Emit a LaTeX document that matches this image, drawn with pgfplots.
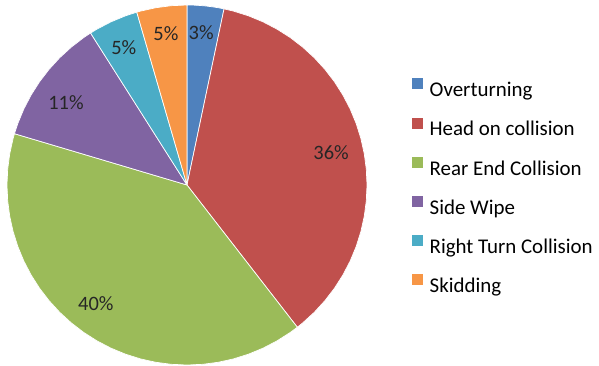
\documentclass[border=0pt]{standalone}
\usepackage{fontspec}
\setmainfont{Carlito}
\usepackage{pgfplots}
\pgfplotsset{compat=1.18}
\usepgfplotslibrary{polar}
\definecolor{cBlue}{HTML}{4F81BD}
\definecolor{cRed}{HTML}{C0504D}
\definecolor{cGreen}{HTML}{9BBB59}
\definecolor{cPurple}{HTML}{8064A2}
\definecolor{cAqua}{HTML}{4BACC6}
\definecolor{cOrange}{HTML}{F79646}
% Shares (%): Overturning 3.3, Head on 36.2, Rear End 40.1, Side Wipe 11.4, Right Turn 4.5, Skidding 4.5
% Slice boundaries (degrees, counter-clockwise from east, start at 90 going clockwise):
% 90 | 78.12 | -52.2 (307.8) | -196.56 (163.44) | 122.4 | 106.2 | 90
\begin{document}
\begin{tikzpicture}
\path (-187bp,-180bp) rectangle (412bp,185bp);
\begin{polaraxis}[
  at={(0,0)}, anchor=center,
  scale only axis, width=360bp, height=360bp,
  hide axis, ymin=0, ymax=1, xmin=0, xmax=360,
  clip=false,
  legend cell align=left,
  legend image code/.code={\fill[#1] (0bp,2bp) rectangle (12bp,14bp);},
  legend style={draw=none, fill=none, inner sep=0pt, outer sep=0pt,
    at={(1.1222,0.799)}, anchor=north west,
    font=\fontsize{21}{25}\selectfont,
    nodes={inner sep=0pt, text height=14bp, text depth=4bp},
    row sep=15.8bp,
    /tikz/every odd column/.append style={column sep=6bp}},
  slice/.style={fill=#1, draw=white, line width=0.7bp},
]
% Overturning
\addplot[slice=cBlue] coordinates {(0,0) (78.12,1) (80,1) (82,1) (84,1) (86,1) (88,1) (90,1) (0,0)};
\addlegendentry{Overturning}
% Head on collision
\addplot[slice=cRed] coordinates {(0,0) (307.8,1) (310,1) (315,1) (320,1) (325,1) (330,1) (335,1) (340,1) (345,1) (350,1) (355,1) (360,1) (5,1) (10,1) (15,1) (20,1) (25,1) (30,1) (35,1) (40,1) (45,1) (50,1) (55,1) (60,1) (65,1) (70,1) (75,1) (78.12,1) (0,0)};
\addlegendentry{Head on collision}
% Rear End Collision
\addplot[slice=cGreen] coordinates {(0,0) (163.44,1) (165,1) (170,1) (175,1) (180,1) (185,1) (190,1) (195,1) (200,1) (205,1) (210,1) (215,1) (220,1) (225,1) (230,1) (235,1) (240,1) (245,1) (250,1) (255,1) (260,1) (265,1) (270,1) (275,1) (280,1) (285,1) (290,1) (295,1) (300,1) (305,1) (307.8,1) (0,0)};
\addlegendentry{Rear End Collision}
% Side Wipe
\addplot[slice=cPurple] coordinates {(0,0) (122.4,1) (125,1) (130,1) (135,1) (140,1) (145,1) (150,1) (155,1) (160,1) (163.44,1) (0,0)};
\addlegendentry{Side Wipe}
% Right Turn Collision
\addplot[slice=cAqua] coordinates {(0,0) (106.2,1) (110,1) (115,1) (120,1) (122.4,1) (0,0)};
\addlegendentry{Right Turn Collision}
% Skidding
\addplot[slice=cOrange] coordinates {(0,0) (90,1) (95,1) (100,1) (105,1) (106.2,1) (0,0)};
\addlegendentry{Skidding}
% data labels
\addplot[forget plot, draw=none, mark=none, nodes near coords, point meta=explicit symbolic,
  nodes near coords style={anchor=center, inner sep=0pt, text=black!85, font=\fontsize{20.5}{24}\selectfont}]
  coordinates {(84.7,0.85) [3\%] (12.5,0.82) [36\%] (232.4,0.83) [40\%] (145.6,0.815) [11\%] (114.7,0.84) [5\%] (97.9,0.85) [5\%]};
\end{polaraxis}
\end{tikzpicture}
\end{document}
